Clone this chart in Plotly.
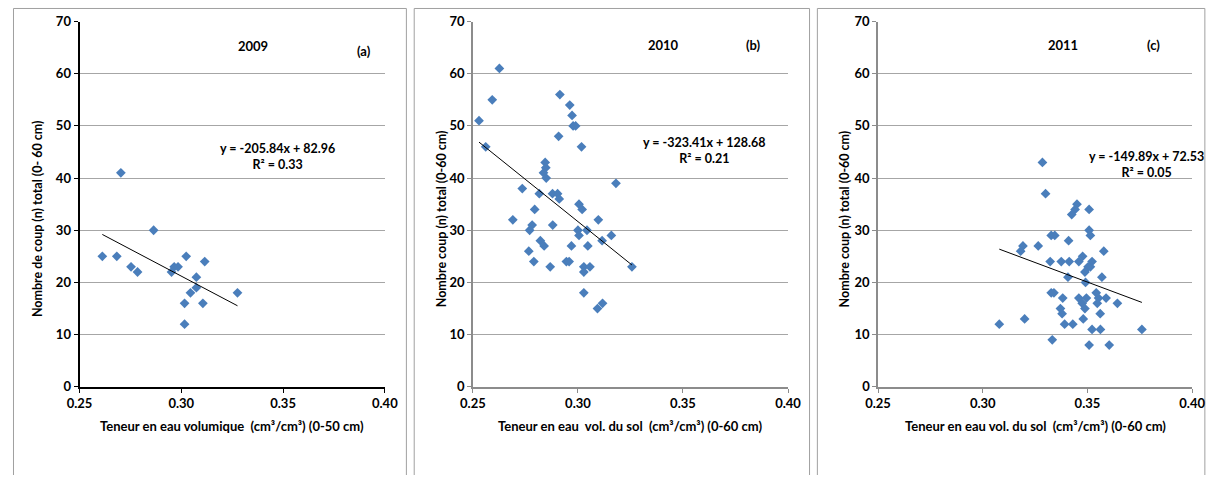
import plotly.graph_objects as go

# ---- data -------------------------------------------------------------
# 2009 : volumetric water content (0-50 cm) vs. total blow count (0-60 cm)
x_2009 = [0.2612, 0.2683, 0.2703, 0.2753, 0.2785, 0.2864, 0.2952, 0.2965, 0.2984,
          0.3024, 0.3115, 0.3074, 0.3074, 0.3045, 0.3016, 0.3106, 0.3016, 0.3276]
y_2009 = [25, 25, 41, 23, 22, 30, 22, 23, 23, 25, 24, 21, 19, 18, 16, 16, 12, 18]

# 2010
x_2010 = [0.2626, 0.2592, 0.2529, 0.2561, 0.2914, 0.2961, 0.2972, 0.2977, 0.2989,
          0.2908, 0.3017, 0.2844, 0.2847, 0.2836, 0.2849, 0.3181, 0.2735, 0.2816,
          0.2879, 0.2903, 0.2911, 0.2794, 0.3005, 0.3020, 0.2690, 0.2782, 0.2770,
          0.2880, 0.3097, 0.3000, 0.3005, 0.3043, 0.3159, 0.3115, 0.2821, 0.2839,
          0.2969, 0.3047, 0.2766, 0.2790, 0.2868, 0.2945, 0.2958, 0.3028, 0.3057,
          0.3028, 0.3028, 0.3117, 0.3093, 0.3257]
y_2010 = [61, 55, 51, 46, 56, 54, 52, 50, 50,
          48, 46, 43, 42, 41, 40, 39, 38, 37,
          37, 37, 36, 34, 35, 34, 32, 31, 30,
          31, 32, 30, 29, 30, 29, 28, 28, 27,
          27, 27, 26, 24, 23, 24, 24, 23, 23,
          22, 18, 16, 15, 23]

# 2011
x_2011 = [0.3285, 0.3300, 0.3450, 0.3441, 0.3425, 0.3508, 0.3508, 0.3514, 0.3327,
          0.3344, 0.3410, 0.3192, 0.3181, 0.3265, 0.3578, 0.3322, 0.3375, 0.3413,
          0.3459, 0.3477, 0.3522, 0.3514, 0.3503, 0.3488, 0.3407, 0.3569, 0.3491,
          0.3327, 0.3340, 0.3382, 0.3459, 0.3495, 0.3542, 0.3553, 0.3589, 0.3475,
          0.3547, 0.3643, 0.3371, 0.3488, 0.3379, 0.3561, 0.3200, 0.3480, 0.3079,
          0.3391, 0.3430, 0.3522, 0.3562, 0.3760, 0.3332, 0.3508, 0.3604]
y_2011 = [43, 37, 35, 34, 33, 34, 30, 29, 29,
          29, 28, 27, 26, 27, 26, 24, 24, 24,
          24, 25, 24, 23, 23, 22, 21, 21, 20,
          18, 18, 17, 17, 17, 18, 17, 17, 16,
          16, 16, 15, 15, 14, 14, 13, 13, 12,
          12, 12, 11, 11, 11, 9, 8, 8]

# linear fits (slope, intercept, R²) as reported on each panel
fits = {
    "2009": (-205.84, 82.96, 0.33),
    "2010": (-323.41, 128.68, 0.21),
    "2011": (-149.89, 72.53, 0.05),
}

x_ticks = [0.25, 0.30, 0.35, 0.40]
x_tick_labels = ["0.25", "0.30", "0.35", "0.40"]
y_ticks = [0, 10, 20, 30, 40, 50, 60, 70]
y_tick_labels = ["0", "10", "20", "30", "40", "50", "60", "70"]

x_titles = [
    "Teneur en eau volumique  (cm³/cm³) (0-50 cm)",
    "Teneur en eau  vol. du sol  (cm³/cm³) (0-60 cm)",
    "Teneur en eau vol. du sol  (cm³/cm³) (0-60 cm)",
]
y_titles = [
    "Nombre de coup (n) total (0- 60 cm)",
    "Nombre coup (n) total (0-60 cm)",
    "Nombre coup (n) total (0-60 cm)",
]
years = ["2009", "2010", "2011"]
tags = ["(a)", "(b)", "(c)"]

# ---- layout geometry ---------------------------------------------------
# The page body keeps its default 8 px margin, so the figure is sized to
# fit inside a 1228 x 491 page; positions below are page pixels.
PAGE_W, PAGE_H, BODY_M = 1228, 491, 8
W, H = PAGE_W - 2 * BODY_M, PAGE_H - 2 * BODY_M
FONT = "Lato"
MARK = "#4A7EBB"

plot_px = [(76, 388), (478, 800), (892, 1213)]     # plot area left/right
plot_top, plot_bot = 22, 400
frames = [(8.5, 410), (418, 822), (830, 1226)]      # panel borders
ytitle_x = [33, 446, 858]
year_pos = [(253, 47), (673, 46), (1081, 46)]
tag_pos = [(367, 52), (765, 46), (1174, 46)]
eq_pos = [(278, 154), (715, 147), (1166, 162)]


def px(x):
    return (x - BODY_M) / W


def py(y):
    return 1 - (y - BODY_M) / H


def b(s):
    return f"<b>{s}</b>"


def label(x, y, text, angle=0, size=13):
    fig.add_annotation(x=px(x), y=py(y), xref="paper", yref="paper",
                       xanchor="center", yanchor="middle", text=text,
                       textangle=angle, align="center", showarrow=False,
                       font=dict(family=FONT, size=size, color="black"))


fig = go.Figure()
series = [(x_2009, y_2009), (x_2010, y_2010), (x_2011, y_2011)]
tick_font = dict(family=FONT, size=13, color="black")

for i, (xs, ys) in enumerate(series):
    suffix = "" if i == 0 else str(i + 1)
    xa, ya = "x" + suffix, "y" + suffix
    fig.add_trace(go.Scatter(
        x=xs, y=ys, mode="markers", xaxis=xa, yaxis=ya,
        marker=dict(symbol="diamond", size=7.5, color=MARK,
                    line=dict(width=0)),
        showlegend=False, hoverinfo="x+y"))
    slope, inter, r2 = fits[years[i]]
    x0, x1 = min(xs), max(xs)
    fig.add_trace(go.Scatter(
        x=[x0, x1], y=[slope * x0 + inter, slope * x1 + inter],
        mode="lines", xaxis=xa, yaxis=ya,
        line=dict(color="black", width=1), showlegend=False,
        hoverinfo="skip"))

    axis_col = "black" if i == 0 else "#8C8C8C"
    axis_w = 2 if i == 0 else 1.5
    l, r = plot_px[i]
    fig.layout["xaxis" + suffix] = dict(
        domain=[px(l), px(r)], anchor=ya, range=[0.25, 0.40],
        tickvals=x_ticks, ticktext=[b(t) for t in x_tick_labels],
        ticks="outside", ticklen=4, tickcolor=axis_col, tickwidth=1,
        showline=True, linecolor=axis_col, linewidth=axis_w,
        showgrid=False, zeroline=False, tickfont=tick_font,
        fixedrange=True)
    fig.layout["yaxis" + suffix] = dict(
        domain=[py(plot_bot), py(plot_top)], anchor=xa, range=[0, 70],
        tickvals=y_ticks, ticktext=[b(t) for t in y_tick_labels],
        ticks="outside", ticklen=4, tickcolor=axis_col, tickwidth=1,
        showline=True, linecolor=axis_col, linewidth=axis_w,
        showgrid=True, gridcolor="#A6A6A6", gridwidth=1,
        zeroline=False, tickfont=tick_font, fixedrange=True)

    # panel border (runs off the bottom of the figure)
    fl, fr = frames[i]
    fig.add_shape(type="rect", xref="paper", yref="paper",
                  x0=px(fl), x1=px(fr), y0=py(520), y1=py(8.5),
                  line=dict(color="#A0A0A0", width=1), layer="below")

    label((l + r) / 2, 441, b(x_titles[i]))
    label(ytitle_x[i], 226, b(y_titles[i]), angle=-90, size=12.5)
    label(*year_pos[i], b(years[i]))
    label(*tag_pos[i], b(tags[i]))
    sign = "+" if inter >= 0 else "-"
    eq = (b(f"y = {slope:.2f}x {sign} {abs(inter):.2f}") + "<br>"
          + b(f"R² = {r2:.2f}"))
    label(eq_pos[i][0], eq_pos[i][1] + 8, eq, size=12.5)

fig.update_layout(
    width=W, height=H, margin=dict(l=0, r=0, t=0, b=0),
    paper_bgcolor="white", plot_bgcolor="white",
    font=dict(family=FONT),
)

fig.write_html("out.html", config={"displayModeBar": False})
